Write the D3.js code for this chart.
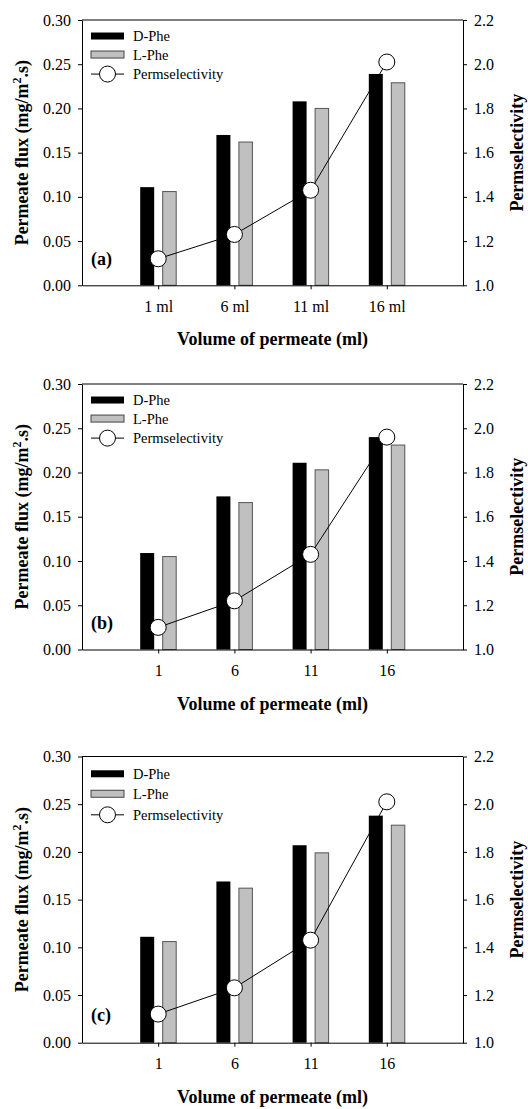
<!DOCTYPE html>
<html lang="en">
<head>
<meta charset="utf-8">
<title>Permeate flux and permselectivity</title>
<script src="https://d3js.org/d3.v7.min.js"></script>
<style>
  body { margin: 0; background: #fff; }
  .axis path, .axis line { stroke: #000; stroke-width: 1; }
</style>
</head>
<body>
<div id="chart"></div>
<script>
// volumes of permeate (categories)
const volumes = [1, 6, 11, 16];
const tickLabelsA = ["1 ml", "6 ml", "11 ml", "16 ml"];
const tickLabelsBC = ["1", "6", "11", "16"];

// panel (a)
const dPheA = [0.111, 0.170, 0.208, 0.239];
const lPheA = [0.106, 0.162, 0.200, 0.229];
const permA = [1.12, 1.23, 1.43, 2.01];
// panel (b)
const dPheB = [0.109, 0.173, 0.211, 0.240];
const lPheB = [0.105, 0.166, 0.203, 0.231];
const permB = [1.10, 1.22, 1.43, 1.96];
// panel (c)
const dPheC = [0.111, 0.169, 0.207, 0.238];
const lPheC = [0.106, 0.162, 0.199, 0.228];
const permC = [1.12, 1.23, 1.43, 2.01];

const fluxTicks = [0, 0.05, 0.10, 0.15, 0.20, 0.25, 0.30];
const permTicks = [1.0, 1.2, 1.4, 1.6, 1.8, 2.0, 2.2];

const width = 528, height = 1109;
const left = 82, right = 463;
const serif = "'Liberation Serif', 'Times New Roman', Times, serif";

const panels = [
  {label: "(a)", top: 20, bottom: 285.3, ticks: tickLabelsA, d: dPheA, l: lPheA, p: permA},
  {label: "(b)", top: 384, bottom: 649.5, ticks: tickLabelsBC, d: dPheB, l: lPheB, p: permB},
  {label: "(c)", top: 756.5, bottom: 1042.7, ticks: tickLabelsBC, d: dPheC, l: lPheC, p: permC}
];

const svg = d3.select("#chart").append("svg")
    .attr("width", width)
    .attr("height", height)
    .style("display", "block")
    .style("font-family", serif);

function styleAxis(sel) {
  sel.attr("font-family", null).attr("font-size", null);
  sel.selectAll("text")
    .style("font-family", serif)
    .style("font-size", "16px")
    .attr("fill", "#000");
}

panels.forEach(pn => {
  const g = svg.append("g");
  const h = pn.bottom - pn.top;
  const k = h / 265;

  const x = d3.scaleLinear().domain([0, 5]).range([left, right]);
  const y = d3.scaleLinear().domain([0, 0.30]).range([pn.bottom, pn.top]);
  const y2 = d3.scaleLinear().domain([1.0, 2.2]).range([pn.bottom, pn.top]);

  // bars
  g.selectAll(".dbar")
    .data(pn.d)
    .join("rect")
    .attr("x", (d, i) => x(i + 1) - 18)
    .attr("width", 14)
    .attr("y", d => y(d))
    .attr("height", d => pn.bottom - y(d))
    .attr("fill", "#000");

  g.selectAll(".lbar")
    .data(pn.l)
    .join("rect")
    .attr("x", (d, i) => x(i + 1) + 4.5)
    .attr("width", 13.5)
    .attr("y", d => y(d))
    .attr("height", d => pn.bottom - y(d))
    .attr("fill", "#c0c0c0")
    .attr("stroke", "#555")
    .attr("stroke-width", 1);

  // permselectivity line + markers
  const line = d3.line()
    .x((d, i) => x(i + 1))
    .y(d => y2(d));

  g.append("path")
    .datum(pn.p)
    .attr("fill", "none")
    .attr("stroke", "#000")
    .attr("stroke-width", 1)
    .attr("d", line);

  g.selectAll(".pt")
    .data(pn.p)
    .join("circle")
    .attr("cx", (d, i) => x(i + 1))
    .attr("cy", d => y2(d))
    .attr("r", 8)
    .attr("fill", "#fff")
    .attr("stroke", "#000")
    .attr("stroke-width", 1);

  // axes
  g.append("g")
    .attr("class", "axis")
    .attr("transform", `translate(${left},0)`)
    .call(d3.axisLeft(y).tickValues(fluxTicks).tickFormat(d3.format(".2f"))
      .tickSize(4).tickSizeOuter(0).tickPadding(7))
    .call(styleAxis);

  g.append("g")
    .attr("class", "axis")
    .attr("transform", `translate(${right},0)`)
    .call(d3.axisRight(y2).tickValues(permTicks).tickFormat(d3.format(".1f"))
      .tickSize(4).tickSizeOuter(0).tickPadding(7))
    .call(styleAxis);

  g.append("g")
    .attr("class", "axis")
    .attr("transform", `translate(0,${pn.bottom})`)
    .call(d3.axisBottom(x).tickValues([1, 2, 3, 4]).tickFormat((d, i) => pn.ticks[i])
      .tickSize(4).tickSizeOuter(0).tickPadding(11))
    .call(styleAxis);

  g.append("line")
    .attr("x1", left).attr("x2", right)
    .attr("y1", pn.top).attr("y2", pn.top)
    .attr("stroke", "#000")
    .attr("stroke-width", 1);

  // titles
  const mid = (pn.top + pn.bottom) / 2;
  const bold = s => s.style("font-family", serif).style("font-size", "18px").style("font-weight", "bold");

  const lt = g.append("text")
    .call(bold)
    .attr("text-anchor", "middle")
    .attr("transform", `translate(28,${mid}) rotate(-90)`);
  lt.append("tspan").text("Permeate flux (mg/m");
  lt.append("tspan").attr("dy", -7).style("font-size", "12px").text("2");
  lt.append("tspan").attr("dy", 7).text(".s)");

  g.append("text")
    .call(bold)
    .attr("text-anchor", "middle")
    .attr("transform", `translate(523,${mid}) rotate(-90)`)
    .text("Permselectivity");

  g.append("text")
    .call(bold)
    .attr("text-anchor", "middle")
    .attr("x", (left + right) / 2)
    .attr("y", pn.bottom + 60)
    .text("Volume of permeate (ml)");

  g.append("text")
    .call(bold)
    .attr("x", 91)
    .attr("y", pn.bottom - 20 * k)
    .text(pn.label);

  // legend
  const lg = g.append("g");
  const rows = [16, 34.5, 54].map(r => pn.top + r * k);
  lg.append("rect").attr("x", 91).attr("y", rows[0] - 3.5).attr("width", 33).attr("height", 7)
    .attr("fill", "#000");
  lg.append("rect").attr("x", 91).attr("y", rows[1] - 3.5).attr("width", 33).attr("height", 7)
    .attr("fill", "#c0c0c0").attr("stroke", "#444");
  lg.append("line").attr("x1", 91).attr("x2", 124).attr("y1", rows[2]).attr("y2", rows[2])
    .attr("stroke", "#000");
  lg.append("circle").attr("cx", 107.5).attr("cy", rows[2]).attr("r", 8)
    .attr("fill", "#fff").attr("stroke", "#000");
  ["D-Phe", "L-Phe", "Permselectivity"].forEach((t, i) => {
    lg.append("text")
      .attr("x", 133).attr("y", rows[i] + 5)
      .style("font-family", serif).style("font-size", "14.5px")
      .text(t);
  });
});
</script>
</body>
</html>
